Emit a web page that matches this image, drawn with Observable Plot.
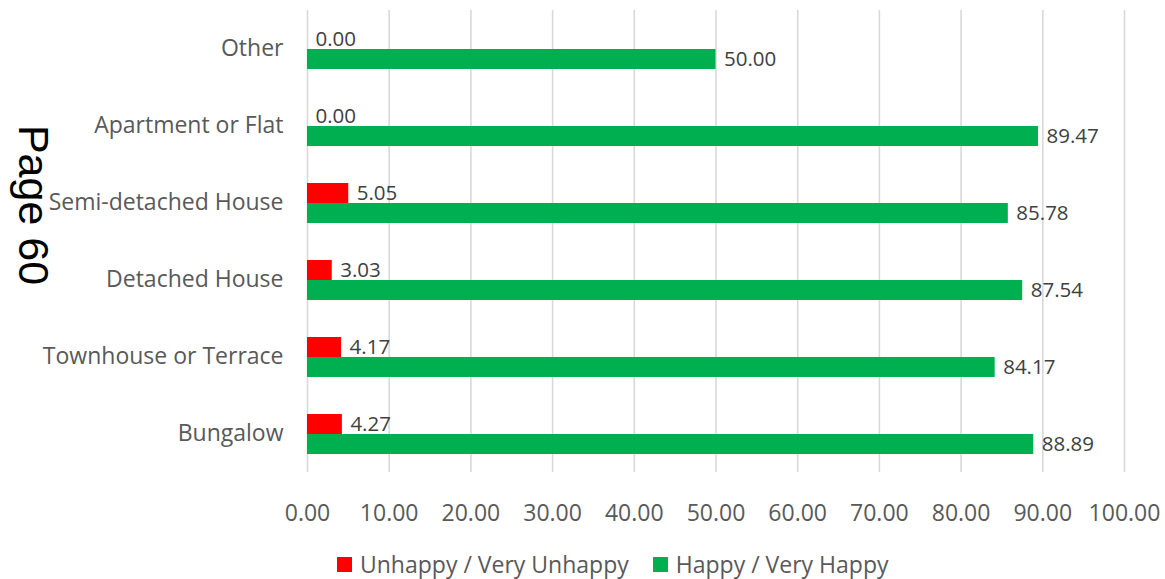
<!DOCTYPE html>
<html>
<head>
<meta charset="utf-8">
<script src="https://cdn.jsdelivr.net/npm/d3@7"></script>
<script src="https://cdn.jsdelivr.net/npm/@observablehq/plot@0.6"></script>
<style>
  html, body { margin: 0; padding: 0; background: #fff; overflow: hidden; }
  #wrap { position: relative; width: 1165px; height: 579px; font-family: "Open Sans", sans-serif; }
  #page { position: absolute; left: 33px; top: 205px; transform: translate(-50%, -50%) rotate(90deg);
          font-family: "Liberation Sans", Arial, sans-serif; font-size: 43px; color: #000; white-space: nowrap; }
  #legend { position: absolute; left: 337px; top: 551px; display: flex; align-items: center; font-size: 23px; line-height: 1.15; color: #595959; }
  .sw { display: inline-block; width: 15px; height: 15px; margin-right: 8px; }
  .item { display: flex; align-items: center; margin-right: 24px; }
</style>
</head>
<body>
<div id="wrap">
  <div id="chart"></div>
  <div id="page">Page 60</div>
  <div id="legend"></div>
</div>
<script>
const categories = ["Other", "Apartment or Flat", "Semi-detached House", "Detached House", "Townhouse or Terrace", "Bungalow"];
const unhappy = [0.00, 0.00, 5.05, 3.03, 4.17, 4.27];
const happy = [50.00, 89.47, 85.78, 87.54, 84.17, 88.89];
const series = ["Unhappy / Very Unhappy", "Happy / Very Happy"];
const colors = ["#ff0000", "#00b050"];
const xTicks = [0, 10, 20, 30, 40, 50, 60, 70, 80, 90, 100];

const rows = [];
categories.forEach((c, i) => {
  rows.push({cat: c, series: series[0], value: unhappy[i]});
  rows.push({cat: c, series: series[1], value: happy[i]});
});

const chart = Plot.plot({
  width: 1165,
  height: 540,
  marginLeft: 307,
  marginRight: 41,
  marginTop: 7,
  marginBottom: 66,
  style: {fontFamily: "'Open Sans', sans-serif", fontSize: "23px", color: "#595959", background: "#fff"},
  x: {domain: [0, 100], ticks: xTicks, tickFormat: d => d.toFixed(2), tickSize: 0, tickPadding: 32, label: null},
  fy: {domain: categories, padding: 0, label: null, tickSize: 0, tickPadding: 24},
  y: {domain: series, paddingInner: 0, paddingOuter: 0.85, axis: null},
  color: {domain: series, range: colors},
  marks: [
    Plot.ruleX(xTicks, {stroke: "#d9d9d9", strokeWidth: 1.6}),
    Plot.barX(rows, {fy: "cat", y: "series", x: "value", fill: "series"}),
    Plot.text(rows, {fy: "cat", y: "series", x: "value", text: d => d.value.toFixed(2),
      textAnchor: "start", dx: 8, fill: "#404040", fontSize: 20.5})
  ]
});
document.getElementById("chart").appendChild(chart);

const legend = document.getElementById("legend");
series.forEach((s, i) => {
  const it = document.createElement("div");
  it.className = "item";
  const sw = document.createElement("span");
  sw.className = "sw";
  sw.style.background = colors[i];
  it.appendChild(sw);
  it.appendChild(document.createTextNode(s));
  legend.appendChild(it);
});
</script>
</body>
</html>
